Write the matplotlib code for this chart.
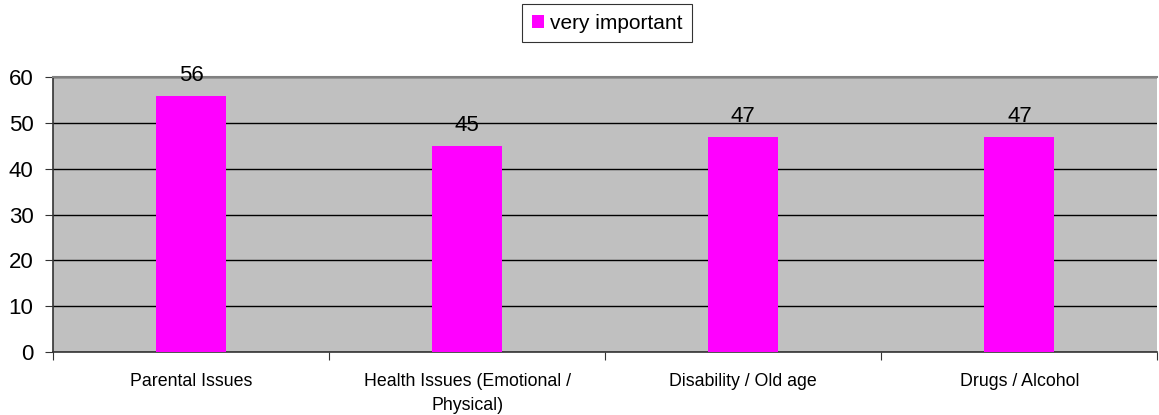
import matplotlib.pyplot as plt
import numpy as np

categories = ['Parental Issues', 'Health Issues (Emotional /\nPhysical)',
              'Disability / Old age', 'Drugs / Alcohol']
values = [56, 45, 47, 47]
series_name = 'very important'

plt.rcParams['font.family'] = ['Liberation Sans', 'DejaVu Sans']

fig = plt.figure(figsize=(11.59, 4.15), dpi=100)
ax = fig.add_axes([0.0457, 0.152, 0.953, 0.662])
ax.set_facecolor('#C0C0C0')

x = np.arange(len(categories))
bars = ax.bar(x, values, width=0.253, color='#FF00FF', label=series_name, zorder=3)

ax.set_xlim(-0.5, len(categories) - 0.5)
ax.set_ylim(0, 60)
ax.set_yticks(np.arange(0, 61, 10))
ax.tick_params(axis='y', labelsize=16, direction='out', length=6, pad=8, color='#333333')
ax.yaxis.grid(True, color='black', linewidth=1, zorder=1)
ax.set_axisbelow(True)

# boundaries as ticks, labels centred between them
ax.set_xticks(np.arange(-0.5, len(categories), 1.0))
ax.set_xticklabels([])
ax.set_xticks(x, minor=True)
ax.set_xticklabels(categories, minor=True, fontsize=12.8, linespacing=1.55)
ax.tick_params(axis='x', which='major', length=6, color='#333333')
ax.tick_params(axis='x', which='minor', length=0, pad=15)

for sp in ['left', 'bottom']:
    ax.spines[sp].set_color('#333333')
    ax.spines[sp].set_linewidth(1.2)
ax.spines['top'].set_color('#808080')
ax.spines['top'].set_linewidth(1.5)
ax.spines['right'].set_visible(False)

for b, v in zip(bars, values):
    ax.annotate(str(v), (b.get_x() + b.get_width() / 2, v), xytext=(0, 7),
                textcoords='offset points', ha='center', va='bottom', fontsize=16)

leg = fig.legend(loc='upper center', bbox_to_anchor=(0.524, 0.99), fontsize=15,
                 frameon=True, fancybox=False, edgecolor='black',
                 handlelength=0.6, handleheight=0.6, handletextpad=0.3,
                 borderpad=0.45, borderaxespad=0)
leg.get_frame().set_linewidth(0.8)

fig.savefig('out.png', dpi=100)
